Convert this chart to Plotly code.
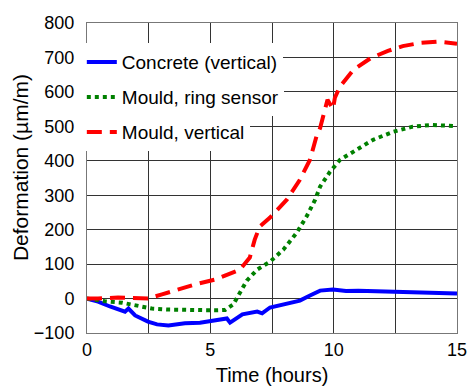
import plotly.graph_objects as go

# Data
t_concrete = [0, 0.45, 0.93, 1.26, 1.54, 1.68, 1.95, 2.47, 2.84, 3.3, 3.97, 4.58, 5.2, 5.67, 5.8,
              6.3, 6.9, 7.1, 7.42, 8.1, 8.63, 9.04, 9.45, 9.97, 10.5, 11.0, 11.5, 12.0, 12.56,
              13.3, 14.0, 14.6, 15]
v_concrete = [0, -9, -23, -32, -38, -29, -49, -67, -75, -78, -72, -70, -64, -58, -70,
              -46, -38, -43, -26, -14, -6, 9, 23, 26, 22, 23, 22, 23, 19,
              19, 18, 15, 15]

t_ring = [0, 0.73, 1.42, 2.07, 2.63, 3.3, 4.25, 5.2, 5.6, 5.93, 6.2, 6.48, 6.9, 7.42, 7.96,
          8.5, 8.9, 9.25, 9.45, 9.85, 10.26, 10.8, 11.6, 12.4, 13.2, 14.0, 14.85]
v_ring = [0, -8, -12, -20, -29, -32, -34, -34, -33, -17, 17, 52, 84, 107, 142,
          191, 238, 287, 325, 368, 403, 426, 461, 484, 499, 504, 501]

t_mould = [0, 0.45, 1.26, 1.95, 2.47, 3.04, 3.69, 4.38, 5.19, 5.8, 6.2, 6.6, 6.8, 7.0, 7.42,
           8.1, 8.63, 9.04, 9.3, 9.45, 9.75, 9.97, 10.05, 10.25, 10.8, 11.5, 12.2, 12.8,
           13.5, 14.2, 14.85, 15]
v_mould = [0, 0, 3, 0, 0, 12, 26, 41, 55, 72, 84, 119, 171, 209, 235,
           287, 345, 403, 470, 495, 577, 550, 583, 615, 664, 698, 719, 733,
           742, 746, 742, 740]

names = ["Concrete (vertical)", "Mould, ring sensor", "Mould, vertical"]
x_title = "Time (hours)"
y_title = "Deformation (µm/m)"

x_tickvals = [0, 2.5, 5, 7.5, 10, 12.5, 15]
x_ticktext = ["0", "", "5", "", "10", "", "15"]
y_tickvals = [-100, 0, 100, 200, 300, 400, 500, 600, 700, 800]

FONT = "Liberation Sans, Arial, sans-serif"

fig = go.Figure()
fig.add_trace(go.Scatter(x=t_concrete, y=v_concrete, mode="lines", name=names[0],
                         line=dict(color="#0000ff", width=4), legend="legend"))
fig.add_trace(go.Scatter(x=t_ring, y=v_ring, mode="lines", name=names[1],
                         line=dict(color="#008000", width=4, dash="dot"), legend="legend2"))
fig.add_trace(go.Scatter(x=t_mould, y=v_mould, mode="lines", name=names[2],
                         line=dict(color="#ff0000", width=4, dash="15px,8px"), legend="legend3"))

leg_common = dict(x=-0.014, xanchor="left", yanchor="middle", bgcolor="white",
                  borderwidth=0, font=dict(family=FONT, size=19, color="black"))

fig.update_layout(
    width=469, height=386,
    margin=dict(l=87, r=12, t=23, b=53, autoexpand=False),
    paper_bgcolor="white", plot_bgcolor="white",
    showlegend=True,
    font=dict(family=FONT, size=18, color="black"),
    legend=dict(y=0.874, **leg_common),
    legend2=dict(y=0.761, **leg_common),
    legend3=dict(y=0.648, **leg_common),
    xaxis=dict(range=[0, 15], tickvals=x_tickvals, ticktext=x_ticktext,
               showgrid=True, gridcolor="#333", gridwidth=1, zeroline=False,
               showline=True, linecolor="#777", linewidth=1, mirror=True,
               ticks="", ticklabelstandoff=0, automargin=False,
               title=dict(text=x_title, standoff=19,
                          font=dict(family=FONT, size=20, color="black"))),
    yaxis=dict(range=[-100, 800], tickvals=y_tickvals,
               showgrid=True, gridcolor="#333", gridwidth=1, zeroline=False,
               showline=True, linecolor="#777", linewidth=1, mirror=True,
               ticks="", ticklabelstandoff=8, automargin=False),
    annotations=[dict(text=y_title, xref="paper", yref="paper", x=-0.181, y=0.532,
                      xanchor="center", yanchor="middle", textangle=-90, showarrow=False,
                      font=dict(family=FONT, size=21, color="black"))],
)

fig.write_html("out.html")
